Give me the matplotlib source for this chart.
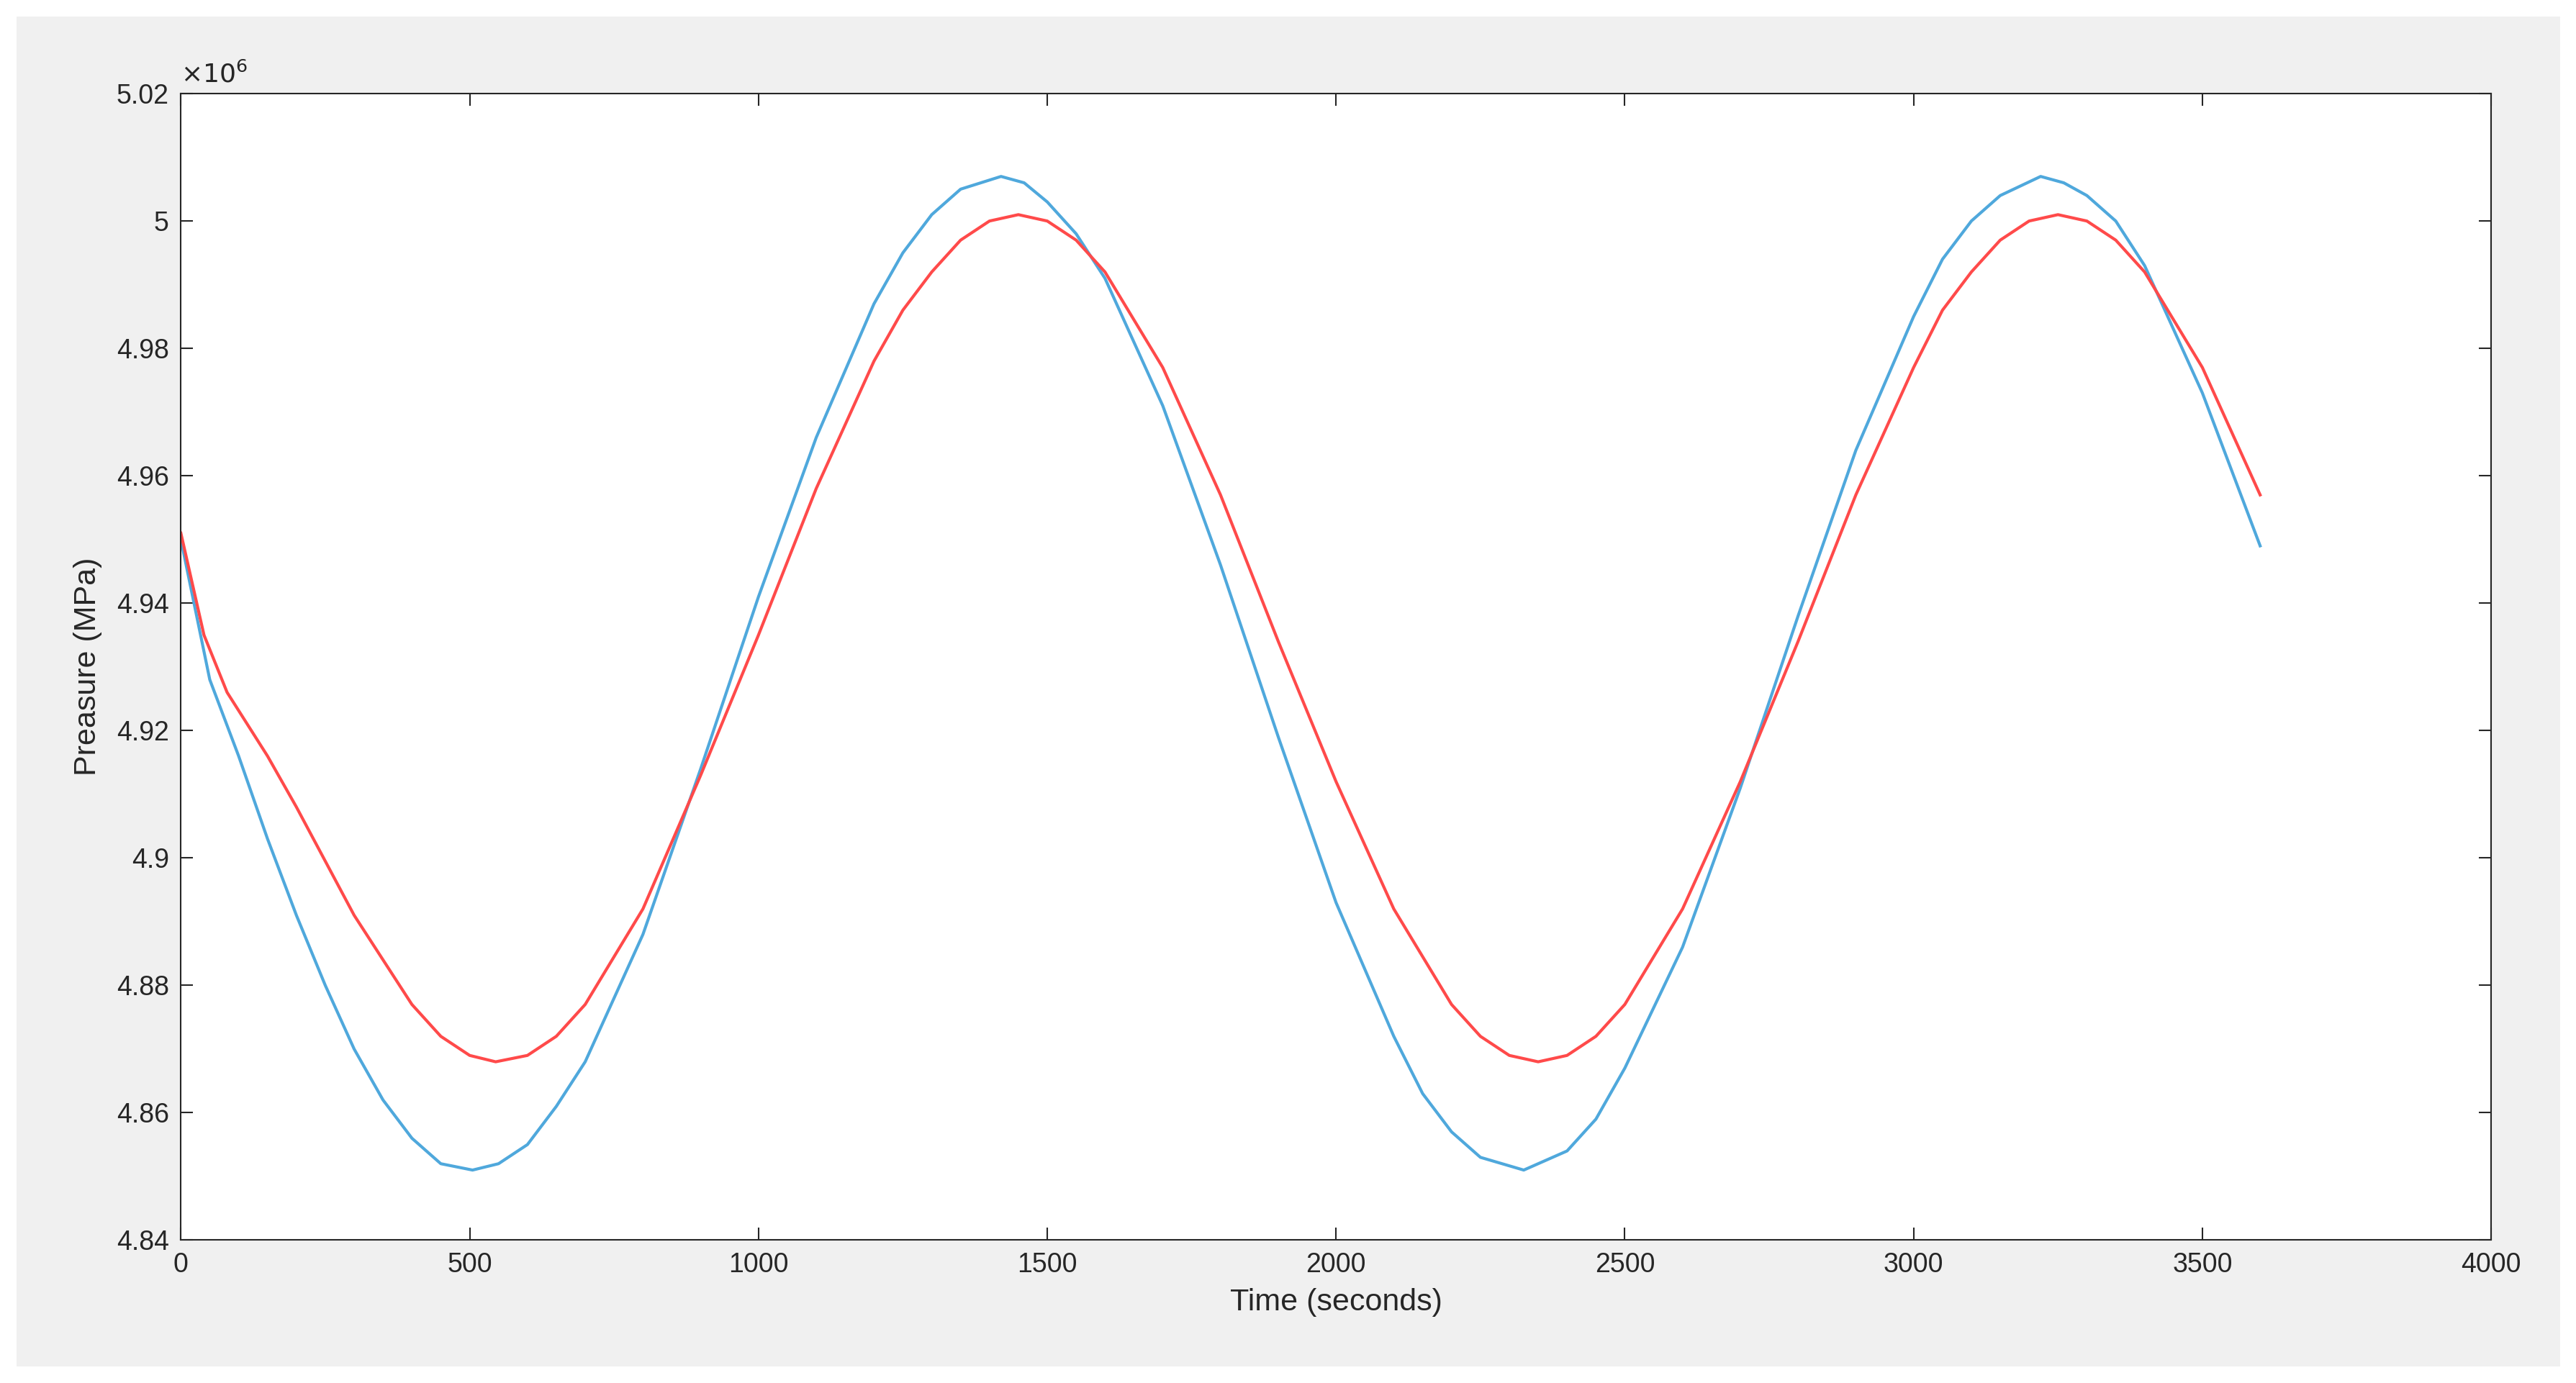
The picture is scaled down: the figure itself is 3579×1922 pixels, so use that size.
import matplotlib.pyplot as plt
from matplotlib.patches import Rectangle
from matplotlib.ticker import FuncFormatter

# values (time in s, pressure in units of 1e6)
t_blue = [0, 50, 100, 150, 200, 250, 300, 350, 400, 450, 505, 550, 600, 650, 700, 800, 900,
          1000, 1100, 1200, 1250, 1300, 1350, 1420, 1460, 1500, 1550, 1600, 1700, 1800,
          1900, 2000, 2100, 2150, 2200, 2250, 2325, 2400, 2450, 2500, 2600, 2700, 2800,
          2900, 3000, 3050, 3100, 3150, 3220, 3260, 3300, 3350, 3400, 3500, 3600]
p_blue = [4.950, 4.928, 4.916, 4.903, 4.891, 4.880, 4.870, 4.862, 4.856, 4.852, 4.851,
          4.852, 4.855, 4.861, 4.868, 4.888, 4.914, 4.941, 4.966, 4.987, 4.995, 5.001,
          5.005, 5.007, 5.006, 5.003, 4.998, 4.991, 4.971, 4.946, 4.919, 4.893, 4.872,
          4.863, 4.857, 4.853, 4.851, 4.854, 4.859, 4.867, 4.886, 4.911, 4.938, 4.964,
          4.985, 4.994, 5.000, 5.004, 5.007, 5.006, 5.004, 5.000, 4.993, 4.973, 4.949]

t_red = [0, 40, 80, 150, 200, 300, 400, 450, 500, 545, 600, 650, 700, 800, 900, 1000,
         1100, 1200, 1250, 1300, 1350, 1400, 1450, 1500, 1550, 1600, 1700, 1800, 1900,
         2000, 2100, 2200, 2250, 2300, 2350, 2400, 2450, 2500, 2600, 2700, 2800, 2900,
         3000, 3050, 3100, 3150, 3200, 3250, 3300, 3350, 3400, 3500, 3600]
p_red = [4.951, 4.935, 4.926, 4.916, 4.908, 4.891, 4.877, 4.872, 4.869, 4.868, 4.869,
         4.872, 4.877, 4.892, 4.913, 4.935, 4.958, 4.978, 4.986, 4.992, 4.997, 5.000,
         5.001, 5.000, 4.997, 4.992, 4.977, 4.957, 4.934, 4.912, 4.892, 4.877, 4.872,
         4.869, 4.868, 4.869, 4.872, 4.877, 4.892, 4.912, 4.934, 4.957, 4.977, 4.986,
         4.992, 4.997, 5.000, 5.001, 5.000, 4.997, 4.992, 4.977, 4.957]

x_ticks = [0, 500, 1000, 1500, 2000, 2500, 3000, 3500, 4000]
y_ticks = [4.84, 4.86, 4.88, 4.90, 4.92, 4.94, 4.96, 4.98, 5.00, 5.02]

plt.rcParams['font.family'] = ['Liberation Sans', 'DejaVu Sans']

fig = plt.figure(figsize=(35.8, 19.22), dpi=100)
fig.patch.set_facecolor('white')
fig.patches.append(Rectangle((10 / 1568, 10 / 842), 1548 / 1568, 822 / 842,
                             transform=fig.transFigure, facecolor='#f0f0f0',
                             edgecolor='none', zorder=-10))

ax = fig.add_axes([0.0702, 0.1033, 0.8966, 0.8290])
ax.plot(t_blue, p_blue, color='#4fa8dc', lw=3)
ax.plot(t_red, p_red, color='#ff4a4a', lw=3)

ax.set_xlim(0, 4000)
ax.set_ylim(4.84, 5.02)
ax.set_xticks(x_ticks)
ax.set_yticks(y_ticks)
ax.yaxis.set_major_formatter(FuncFormatter(lambda v, _: f"{v:.2f}".rstrip('0').rstrip('.')))
ax.tick_params(direction='in', length=12, width=1.5, labelsize=27, colors='#262626',
               top=True, right=True, pad=12)
for s in ax.spines.values():
    s.set_color('#262626')
    s.set_linewidth(1.5)

ax.set_xlabel('Time (seconds)', fontsize=31, color='#262626', labelpad=10)
ax.set_ylabel('Preasure (MPa)', fontsize=31, color='#262626', labelpad=14)
ax.text(0.0, 1.005, r'$\times10^{6}$', transform=ax.transAxes, fontsize=26,
        color='#262626', va='bottom', ha='left')

fig.savefig('out.png', dpi=100)
